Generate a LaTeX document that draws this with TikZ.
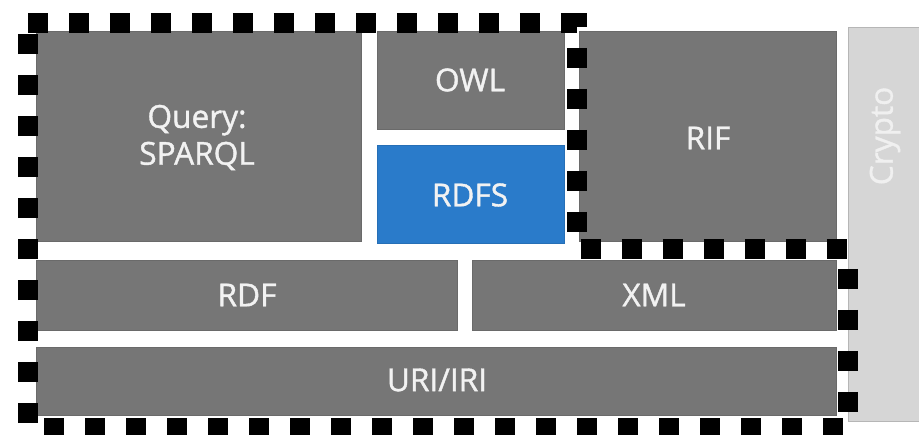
\documentclass[tikz,border=0pt]{standalone}
\usepackage{fontspec}
\setmainfont{Open Sans}
\newfontfamily\layerfont[FakeBold=1.2]{Open Sans}
\usepackage{xcolor}
\usepackage{tikz}
\usetikzlibrary{positioning}
\definecolor{layergray}{HTML}{767676}
\definecolor{rdfsblue}{HTML}{2A7BCA}
\definecolor{cryptogray}{HTML}{D6D6D6}
\definecolor{labelwhite}{HTML}{F2F2F2}
\tikzset{
  layer/.style     = {fill=layergray, draw=layergray!90!black, line width=0.4pt},
  layerblue/.style = {fill=rdfsblue, draw=rdfsblue!90!black, line width=0.4pt},
  side/.style      = {fill=cryptogray, draw=cryptogray!85!black, line width=0.4pt},
  lbl/.style       = {font=\layerfont\fontsize{18}{21}\selectfont, text=labelwhite, align=center, inner sep=0pt},
  sidelbl/.style   = {font=\layerfont\fontsize{18}{21}\selectfont, text=white!94!black, rotate=90, inner sep=0pt},
  scopeline/.style = {draw=black, line width=0.40cm, dash pattern=on 0.40cm off 0.42cm},
}
\begin{document}
\begin{tikzpicture}[x=1cm,y=1cm]
  \useasboundingbox (0,0) rectangle (18.38,8.70);

  % side column
  \draw[side] (16.96,0.28) rectangle (18.60,8.16);
  \node[sidelbl] (crypto) at (17.70,5.98) {Crypto};

  % upper layers
  \draw[layer] (0.72,3.88) rectangle (7.22,8.08);
  \node[lbl] (query) at (3.94,5.95) {Query:\\SPARQL};
  \draw[layer] (7.54,6.12) rectangle (11.28,8.08);
  \node[lbl] (owl) at (9.40,7.10) {OWL};
  \draw[layerblue] (7.54,3.84) rectangle (11.28,5.80);
  \node[lbl] (rdfs) at (9.40,4.80) {RDFS};
  \draw[layer] (11.58,3.88) rectangle (16.72,8.08);
  \node[lbl] (rif) at (14.16,5.94) {RIF};

  % lower layers
  \draw[layer] (0.72,2.10) rectangle (9.14,3.50);
  \node[lbl] (rdf) at (4.94,2.80) {RDF};
  \draw[layer] (9.44,2.10) rectangle (16.72,3.50);
  \node[lbl] (xml) at (13.08,2.80) {XML};
  \draw[layer] (0.72,0.40) rectangle (16.72,1.76);
  \node[lbl] (uri) at (8.74,1.10) {URI/IRI};

  % dashed outline
  \draw[scopeline] (0.56,8.24) -- (11.54,8.24) -- (11.54,3.72) -- (16.96,3.72)
    -- (16.96,0.14) -- (0.56,0.14) -- cycle;
\end{tikzpicture}
\end{document}
